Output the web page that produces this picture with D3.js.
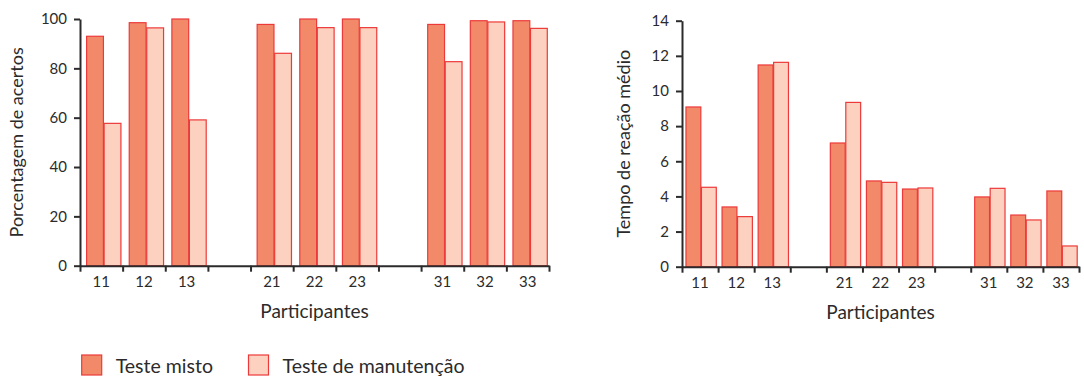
<!DOCTYPE html>
<html>
<head>
<meta charset="utf-8">
<script src="https://cdn.jsdelivr.net/npm/d3@7"></script>
<style>
  html, body { margin: 0; padding: 0; background: #fff; }
  svg { display: block; font-family: Lato, "Open Sans", sans-serif; }
  .axis path, .axis line { stroke: #2b2b2b; stroke-width: 2; }
  .axis text { fill: #2b2b2b; font-size: 15px; font-family: Lato, sans-serif; }
  .title { fill: #2b2b2b; font-size: 18px; }
</style>
</head>
<body>
<svg id="chart" width="1084" height="377"></svg>
<script>
// ---- data ----
const slots = ["11", "12", "13", "gap1", "21", "22", "23", "gap2", "31", "32", "33"];
const participants = ["11", "12", "13", "21", "22", "23", "31", "32", "33"];
const series = ["Teste misto", "Teste de manutenção"];
const acertosMisto = [93.0, 98.5, 100, 97.8, 100, 100, 97.8, 99.3, 99.3];
const acertosManut = [57.7, 96.4, 59.1, 86.1, 96.5, 96.5, 82.7, 98.8, 96.2];
const tempoMisto = [9.09, 3.40, 11.48, 7.04, 4.88, 4.42, 3.97, 2.94, 4.31];
const tempoManut = [4.52, 2.85, 11.63, 9.35, 4.80, 4.48, 4.46, 2.66, 1.18];
const acertosTicks = [0, 20, 40, 60, 80, 100];
const tempoTicks = [0, 2, 4, 6, 8, 10, 12, 14];

const fills = ["#f28a6a", "#fcd1bf"];
const strokeCol = "#ec3a3a";

const svg = d3.select("#chart");

function drawChart(cfg) {
  const g = svg.append("g");
  const x = d3.scaleBand().domain(slots).range([cfg.x0, cfg.x1]).padding(0);
  const y = d3.scaleLinear().domain([0, cfg.yMax]).range([cfg.yBottom, cfg.yTop]);
  const bw = x.bandwidth();
  const inner = d3.scaleBand().domain(series)
    .range([bw * cfg.padL, bw * (1 - cfg.padR)]).paddingInner(cfg.gap);

  // bars
  participants.forEach((p, i) => {
    const vals = [cfg.a[i], cfg.b[i]];
    g.selectAll(null).data(vals).enter().append("rect")
      .attr("x", (d, j) => x(p) + inner(series[j]))
      .attr("y", d => y(d))
      .attr("width", inner.bandwidth())
      .attr("height", d => y(0) - y(d))
      .attr("fill", (d, j) => fills[j])
      .attr("stroke", strokeCol)
      .attr("stroke-width", 1.2);
  });

  // y axis
  g.append("g").attr("class", "axis")
    .attr("transform", `translate(${cfg.x0},0)`)
    .call(d3.axisLeft(y).tickValues(cfg.ticks).tickSize(6).tickSizeOuter(0).tickPadding(7));

  // x axis line with ticks at slot boundaries
  const xb = d3.scaleLinear().domain([0, slots.length]).range([cfg.x0, cfg.x1]);
  g.append("g").attr("class", "axis")
    .attr("transform", `translate(0,${cfg.yBottom})`)
    .call(d3.axisBottom(xb).tickValues(d3.range(slots.length + 1))
      .tickFormat("").tickSize(6).tickSizeOuter(0));

  // x labels
  const lab = g.append("g").attr("class", "axis")
    .attr("transform", `translate(0,${cfg.yBottom})`)
    .call(d3.axisBottom(x).tickSize(0).tickPadding(11)
      .tickFormat(d => d.startsWith("gap") ? "" : d));
  lab.select(".domain").remove();

  // titles
  g.append("text").attr("class", "title")
    .attr("x", (cfg.x0 + cfg.x1) / 2).attr("y", cfg.yBottom + 52)
    .style("font-size", "19px")
    .attr("text-anchor", "middle").text("Participantes");
  g.append("text").attr("class", "title")
    .attr("transform", `translate(${cfg.titleX},${(cfg.yTop + cfg.yBottom) / 2}) rotate(-90)`)
    .attr("text-anchor", "middle").text(cfg.yTitle);
}

drawChart({
  x0: 80, x1: 549, yTop: 19, yBottom: 265.7, yMax: 100, ticks: acertosTicks,
  a: acertosMisto, b: acertosManut, padL: 0.155, padR: 0.04, gap: 0.04,
  titleX: 23, yTitle: "Porcentagem de acertos"
});
drawChart({
  x0: 682, x1: 1079, yTop: 20.7, yBottom: 266.7, yMax: 14, ticks: tempoTicks,
  a: tempoMisto, b: tempoManut, padL: 0.11, padR: 0.05, gap: 0.04,
  titleX: 630, yTitle: "Tempo de reação médio"
});

// legend
const legX = [81.7, 248.5];
const leg = svg.append("g");
series.forEach((s, i) => {
  leg.append("rect").attr("x", legX[i]).attr("y", 355).attr("width", 20).attr("height", 20)
    .attr("fill", fills[i]).attr("stroke", strokeCol).attr("stroke-width", 1.2);
  leg.append("text").attr("class", "title").attr("x", legX[i] + 34).attr("y", 373)
    .style("font-size", "19.5px").text(s);
});
</script>
</body>
</html>
